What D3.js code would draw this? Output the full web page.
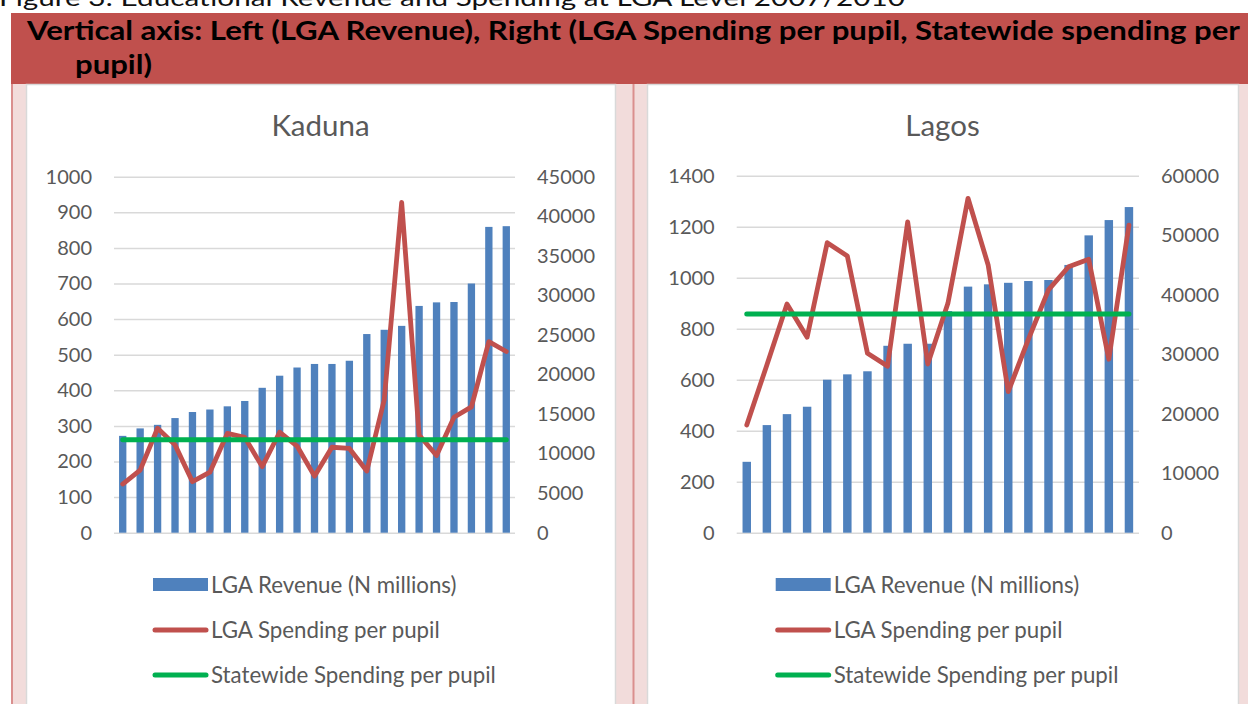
<!DOCTYPE html>
<html>
<head>
<meta charset="utf-8">
<script src="https://cdn.jsdelivr.net/npm/d3@7"></script>
<style>
  html, body { margin: 0; padding: 0; background: #fff; }
  svg { display: block; }
</style>
</head>
<body>
<svg id="chart" width="1248" height="704"></svg>
<script>
// ---------------- DATA ----------------
const kadunaCategories = d3.range(1, 24).map(String);
const kadunaRevenue = [272, 293, 303, 322, 339, 346, 355, 370, 407, 441, 464, 474, 474, 483, 558, 570, 581, 637, 647, 648, 700, 859, 861];
const kadunaSpending = [6150, 7900, 13200, 11100, 6450, 7650, 12550, 12050, 8350, 12700, 10950, 7150, 10800, 10650, 7800, 16800, 41750, 12350, 9750, 14600, 15900, 24150, 22900];
const kadunaStatewide = 11750;
const kadunaLeftTicks = [0, 100, 200, 300, 400, 500, 600, 700, 800, 900, 1000];
const kadunaRightTicks = [0, 5000, 10000, 15000, 20000, 25000, 30000, 35000, 40000, 45000];

const lagosCategories = d3.range(1, 21).map(String);
const lagosRevenue = [278, 422, 465, 494, 600, 621, 633, 733, 741, 741, 869, 965, 974, 980, 987, 991, 1050, 1166, 1226, 1277];
const lagosSpending = [18100, 28200, 38450, 32850, 48750, 46500, 30150, 28000, 52250, 28350, 38550, 56200, 45000, 23700, 32500, 40800, 44700, 45950, 29150, 51700];
const lagosStatewide = 36750;
const lagosLeftTicks = [0, 200, 400, 600, 800, 1000, 1200, 1400];
const lagosRightTicks = [0, 10000, 20000, 30000, 40000, 50000, 60000];

const legendLabels = ["LGA Revenue (N millions)", "LGA Spending per pupil", "Statewide Spending per pupil"];
const headerLines = ["Vertical axis: Left (LGA Revenue), Right (LGA Spending per pupil, Statewide spending per", "pupil)"];
const captionText = "Figure 3: Educational Revenue and Spending at LGA Level 2007/2010";

// ---------------- STYLE ----------------
const BLUE = "#4F81BD", RED = "#C0504D", GREEN = "#00B050";
const TXT = "#595959", GRID = "#D9D9D9";
const FONT = "Lato, 'Open Sans', sans-serif";

const svg = d3.select("#chart");
svg.append("rect").attr("width", 1248).attr("height", 704).attr("fill", "#fff");

// caption (cut off at the top, as in the source page)
svg.append("text").attr("x", -1).attr("y", 6)
  .attr("font-family", FONT).attr("font-size", 24).attr("fill", "#111")
  .attr("textLength", 906).attr("lengthAdjust", "spacingAndGlyphs")
  .text(captionText);

// pink table cells
svg.append("rect").attr("x", 11).attr("y", 84).attr("width", 1237).attr("height", 620).attr("fill", "#F2DCDB");
// red header band
svg.append("rect").attr("x", 11).attr("y", 13).attr("width", 1237).attr("height", 71).attr("fill", RED);
// vertical red cell borders
[12, 633.5].forEach(x => {
  svg.append("line").attr("x1", x).attr("x2", x).attr("y1", 84).attr("y2", 704)
    .attr("stroke", "#DA8F8E").attr("stroke-width", 2);
});

// header text
svg.append("text").attr("x", 27).attr("y", 40)
  .attr("font-family", FONT).attr("font-weight", 700).attr("font-size", 26).attr("fill", "#000")
  .attr("textLength", 1213).attr("lengthAdjust", "spacingAndGlyphs")
  .text(headerLines[0]);
svg.append("text").attr("x", 75).attr("y", 74)
  .attr("font-family", FONT).attr("font-weight", 700).attr("font-size", 26).attr("fill", "#000")
  .attr("textLength", 77).attr("lengthAdjust", "spacingAndGlyphs")
  .text(headerLines[1]);

// white chart panels
[[26, 615], [647, 1238]].forEach(([x0, x1]) => {
  svg.append("rect").attr("x", x0 + 0.5).attr("y", 84.5).attr("width", x1 - x0).attr("height", 640)
    .attr("fill", "#fff").attr("stroke", GRID).attr("stroke-width", 1.5);
});

function drawPanel(cfg) {
  const g = svg.append("g");
  const x = d3.scaleBand().domain(cfg.categories).range([cfg.left, cfg.right])
    .paddingInner(0.58).paddingOuter(0.29);
  const yL = d3.scaleLinear().domain([0, cfg.leftMax]).range([cfg.bottom, cfg.top]);
  const yR = d3.scaleLinear().domain([0, cfg.rightMax]).range([cfg.bottom, cfg.top]);

  // title
  g.append("text").attr("x", (cfg.panelL + cfg.panelR) / 2).attr("y", 136)
    .attr("text-anchor", "middle").attr("font-family", FONT).attr("font-size", 29.5)
    .attr("fill", TXT).text(cfg.title);

  // left axis with gridlines
  const axL = g.append("g").attr("transform", `translate(${cfg.left},0)`)
    .call(d3.axisLeft(yL).tickValues(cfg.leftTicks).tickSize(-(cfg.right - cfg.left)).tickPadding(22).tickFormat(d3.format("d")));
  axL.select(".domain").remove();
  axL.selectAll(".tick line").attr("stroke", GRID).attr("stroke-width", 1.5);
  axL.selectAll(".tick text").attr("font-family", FONT).attr("font-size", 20).attr("fill", TXT);

  // right axis
  const axR = g.append("g").attr("transform", `translate(${cfg.right},0)`)
    .call(d3.axisRight(yR).tickValues(cfg.rightTicks).tickSize(0).tickPadding(22).tickFormat(d3.format("d")));
  axR.select(".domain").remove();
  axR.selectAll(".tick text").attr("font-family", FONT).attr("font-size", 20).attr("fill", TXT);

  // bars
  g.append("g").selectAll("rect").data(cfg.revenue).join("rect")
    .attr("x", (d, i) => x(cfg.categories[i]))
    .attr("y", d => yL(d))
    .attr("width", x.bandwidth())
    .attr("height", d => yL(0) - yL(d))
    .attr("fill", BLUE);

  const cx = i => x(cfg.categories[i]) + x.bandwidth() / 2;

  // spending line
  const line = d3.line().x((d, i) => cx(i)).y(d => yR(d));
  g.append("path").datum(cfg.spending).attr("d", line)
    .attr("fill", "none").attr("stroke", RED).attr("stroke-width", 4.8)
    .attr("stroke-linejoin", "round").attr("stroke-linecap", "round");

  // statewide line
  const sw = cfg.categories.map(() => cfg.statewide);
  g.append("path").datum(sw).attr("d", line)
    .attr("fill", "none").attr("stroke", GREEN).attr("stroke-width", 5)
    .attr("stroke-linecap", "round");

  // legend
  const lx = cfg.left + 39;
  const lg = g.append("g");
  lg.append("rect").attr("x", lx).attr("y", 578).attr("width", 55).attr("height", 13).attr("fill", BLUE);
  lg.append("line").attr("x1", lx + 2).attr("x2", lx + 53).attr("y1", 630).attr("y2", 630)
    .attr("stroke", RED).attr("stroke-width", 5).attr("stroke-linecap", "round");
  lg.append("line").attr("x1", lx + 2).attr("x2", lx + 53).attr("y1", 675).attr("y2", 675)
    .attr("stroke", GREEN).attr("stroke-width", 5).attr("stroke-linecap", "round");
  [585, 630, 675].forEach((yy, i) => {
    lg.append("text").attr("x", cfg.left + 97).attr("y", yy).attr("dy", "0.35em")
      .attr("font-family", FONT).attr("font-size", 22.3).attr("fill", TXT).text(legendLabels[i]);
  });
}

drawPanel({
  title: "Kaduna", categories: kadunaCategories, revenue: kadunaRevenue, spending: kadunaSpending,
  statewide: kadunaStatewide, leftMax: 1000, rightMax: 45000,
  leftTicks: kadunaLeftTicks, rightTicks: kadunaRightTicks,
  left: 114, right: 515, top: 176.7, bottom: 532.7, panelL: 26, panelR: 615
});
drawPanel({
  title: "Lagos", categories: lagosCategories, revenue: lagosRevenue, spending: lagosSpending,
  statewide: lagosStatewide, leftMax: 1400, rightMax: 60000,
  leftTicks: lagosLeftTicks, rightTicks: lagosRightTicks,
  left: 736.7, right: 1139, top: 175.7, bottom: 532.7, panelL: 647, panelR: 1238
});
</script>
</body>
</html>
